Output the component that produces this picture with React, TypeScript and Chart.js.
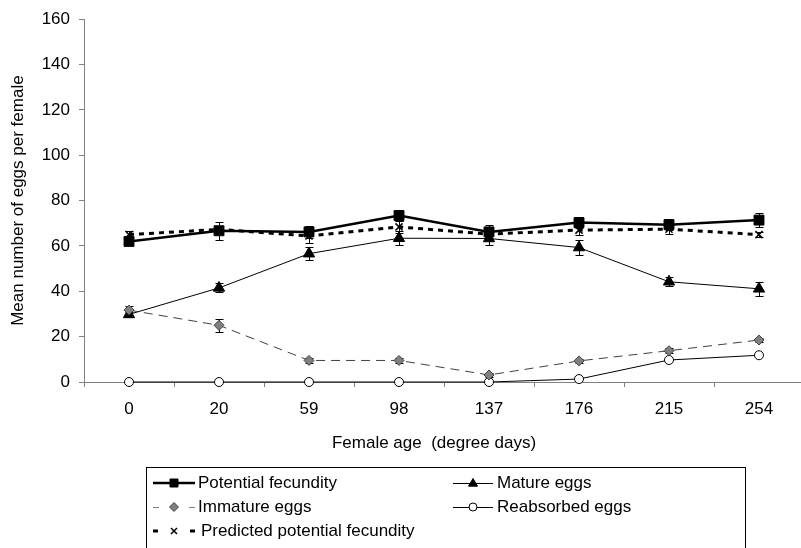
import React, { useEffect, useRef } from "react";
import { Chart, registerables } from "chart.js";

Chart.register(...registerables);

const categories = ["0", "20", "59", "98", "137", "176", "215", "254"];
const potentialFecundity = [62, 66.7, 66.2, 73.4, 66.2, 70.3, 69.4, 71.4];
const potentialErr = [1.5, 4, 2.5, 2.5, 3, 2.5, 2.5, 3];
const matureEggs = [29.8, 41.5, 56.6, 63.4, 63.3, 59.3, 44.2, 41.1];
const matureErr = [1, 2, 3, 3, 3, 3.5, 2, 3];
const immatureEggs = [31.7, 25, 9.5, 9.5, 3.1, 9.3, 13.8, 18.5];
const immatureErr = [2, 3, 1, 1, 1, 1, 1, 1];
const reabsorbedEggs = [0, 0, 0, 0, 0, 1.3, 9.7, 11.8];
const predictedFecundity = [65, 67.3, 64.4, 68.4, 65.2, 67, 67.4, 65];
const predictedErr = [1.5, 1.5, 3, 2.5, 2, 2, 2, 1];
const yTickValues = [0, 20, 40, 60, 80, 100, 120, 140, 160];

const seriesNames = [
  "Potential fecundity",
  "Mature eggs",
  "Immature eggs",
  "Reabsorbed eggs",
  "Predicted potential fecundity",
];

const FONT = '"Liberation Sans", Arial, sans-serif';
const AXIS = "#808080";

function drawMarker(
  ctx: CanvasRenderingContext2D,
  style: string,
  x: number,
  y: number,
  r: number,
  fill: string,
  stroke: string
) {
  ctx.save();
  ctx.setLineDash([]);
  ctx.lineWidth = 1;
  ctx.fillStyle = fill;
  ctx.strokeStyle = stroke;
  ctx.beginPath();
  if (style === "rect") {
    ctx.rect(x - r, y - r, 2 * r, 2 * r);
    ctx.fill();
    ctx.stroke();
  } else if (style === "triangle") {
    ctx.moveTo(x, y - r);
    ctx.lineTo(x + r, y + r * 0.7);
    ctx.lineTo(x - r, y + r * 0.7);
    ctx.closePath();
    ctx.fill();
    ctx.stroke();
  } else if (style === "diamond") {
    ctx.moveTo(x, y - r);
    ctx.lineTo(x + r, y);
    ctx.lineTo(x, y + r);
    ctx.lineTo(x - r, y);
    ctx.closePath();
    ctx.fill();
    ctx.stroke();
  } else if (style === "circle") {
    ctx.arc(x, y, r, 0, Math.PI * 2);
    ctx.fill();
    ctx.stroke();
  } else if (style === "cross") {
    ctx.lineWidth = 1.5;
    ctx.moveTo(x - r, y - r);
    ctx.lineTo(x + r, y + r);
    ctx.moveTo(x + r, y - r);
    ctx.lineTo(x - r, y + r);
    ctx.stroke();
  }
  ctx.restore();
}

const errorSets: { values: number[]; errs: number[] }[] = [
  { values: potentialFecundity, errs: potentialErr },
  { values: matureEggs, errs: matureErr },
  { values: immatureEggs, errs: immatureErr },
  { values: predictedFecundity, errs: predictedErr },
];

const errorBarPlugin = {
  id: "errorBars",
  beforeDatasetsDraw(chart: any) {
    const ctx = chart.ctx as CanvasRenderingContext2D;
    const xs = chart.scales.x;
    const ys = chart.scales.y;
    ctx.save();
    ctx.strokeStyle = "#000";
    ctx.lineWidth = 1;
    ctx.setLineDash([]);
    errorSets.forEach((set) => {
      set.values.forEach((v, i) => {
        const e = set.errs[i];
        if (!e) return;
        const x = Math.round(xs.getPixelForValue(i)) + 0.5;
        const yt = Math.round(ys.getPixelForValue(v + e)) + 0.5;
        const yb = Math.round(ys.getPixelForValue(v - e)) + 0.5;
        ctx.beginPath();
        ctx.moveTo(x, yt);
        ctx.lineTo(x, yb);
        ctx.moveTo(x - 4, yt);
        ctx.lineTo(x + 4, yt);
        ctx.moveTo(x - 4, yb);
        ctx.lineTo(x + 4, yb);
        ctx.stroke();
      });
    });
    ctx.restore();
  },
};

const legendPlugin = {
  id: "customLegend",
  afterDraw(chart: any) {
    const ctx = chart.ctx as CanvasRenderingContext2D;
    ctx.save();
    // x-axis title
    ctx.fillStyle = "#000";
    ctx.font = `17px ${FONT}`;
    ctx.textAlign = "center";
    ctx.textBaseline = "middle";
    ctx.fillText("Female age  (degree days)", 434, 443);

    // legend box
    ctx.strokeStyle = "#000";
    ctx.lineWidth = 1;
    ctx.strokeRect(146.5, 467.5, 599, 120);

    ctx.textAlign = "left";
    const rows = [483, 507, 531];
    const c1 = { x0: 153, x1: 195, tx: 198 };
    const c2 = { x0: 453, x1: 493, tx: 497 };

    // Potential fecundity
    ctx.beginPath();
    ctx.lineWidth = 2.5;
    ctx.moveTo(c1.x0, rows[0]);
    ctx.lineTo(c1.x1, rows[0]);
    ctx.stroke();
    drawMarker(ctx, "rect", (c1.x0 + c1.x1) / 2, rows[0], 4, "#000", "#000");
    ctx.fillText(seriesNames[0], c1.tx, rows[0]);

    // Mature eggs
    ctx.beginPath();
    ctx.lineWidth = 1;
    ctx.moveTo(c2.x0, rows[0] + 0.5);
    ctx.lineTo(c2.x1, rows[0] + 0.5);
    ctx.stroke();
    drawMarker(ctx, "triangle", (c2.x0 + c2.x1) / 2, rows[0], 4.5, "#000", "#000");
    ctx.fillText(seriesNames[1], c2.tx, rows[0]);

    // Immature eggs
    ctx.beginPath();
    ctx.strokeStyle = "#808080";
    ctx.lineWidth = 1;
    ctx.moveTo(c1.x0, rows[1] + 0.5);
    ctx.lineTo(c1.x0 + 6, rows[1] + 0.5);
    ctx.moveTo(c1.x1 - 6, rows[1] + 0.5);
    ctx.lineTo(c1.x1, rows[1] + 0.5);
    ctx.stroke();
    ctx.strokeStyle = "#000";
    drawMarker(ctx, "diamond", (c1.x0 + c1.x1) / 2, rows[1], 4.5, "#808080", "#404040");
    ctx.fillText(seriesNames[2], c1.tx, rows[1]);

    // Reabsorbed eggs
    ctx.beginPath();
    ctx.lineWidth = 1;
    ctx.moveTo(c2.x0, rows[1] + 0.5);
    ctx.lineTo(c2.x1, rows[1] + 0.5);
    ctx.stroke();
    drawMarker(ctx, "circle", (c2.x0 + c2.x1) / 2, rows[1], 4, "#fff", "#000");
    ctx.fillText(seriesNames[3], c2.tx, rows[1]);

    // Predicted potential fecundity
    ctx.fillStyle = "#000";
    ctx.fillRect(c1.x0, rows[2] - 1.5, 5, 3);
    ctx.fillRect(c1.x1 - 5, rows[2] - 1.5, 5, 3);
    drawMarker(ctx, "cross", (c1.x0 + c1.x1) / 2, rows[2], 3, "#000", "#000");
    ctx.fillText(seriesNames[4], c1.tx + 3, rows[2]);

    ctx.restore();
  },
};

export default function App() {
  const ref = useRef<HTMLCanvasElement | null>(null);

  useEffect(() => {
    if (!ref.current) return;
    const chart = new Chart(ref.current, {
      type: "line",
      data: {
        labels: categories,
        datasets: [
          {
            label: seriesNames[2],
            data: immatureEggs,
            borderColor: "#404040",
            borderWidth: 1,
            borderDash: [9, 6],
            pointStyle: "rectRot",
            pointRadius: 5,
            pointBackgroundColor: "#808080",
            pointBorderColor: "#404040",
            pointBorderWidth: 1,
            clip: false,
            order: 1,
          },
          {
            label: seriesNames[0],
            data: potentialFecundity,
            borderColor: "#000",
            borderWidth: 2.5,
            pointStyle: "rect",
            pointRadius: 7,
            pointBackgroundColor: "#000",
            pointBorderColor: "#000",
            pointBorderWidth: 1,
            clip: false,
            order: 2,
          },
          {
            label: seriesNames[1],
            data: matureEggs,
            borderColor: "#000",
            borderWidth: 1,
            pointStyle: "triangle",
            pointRadius: 6.5,
            pointBackgroundColor: "#000",
            pointBorderColor: "#000",
            pointBorderWidth: 1,
            clip: false,
            order: 3,
          },
          {
            label: seriesNames[3],
            data: reabsorbedEggs,
            borderColor: "#000",
            borderWidth: 1,
            pointStyle: "circle",
            pointRadius: 4.5,
            pointBackgroundColor: "#fff",
            pointBorderColor: "#000",
            pointBorderWidth: 1,
            clip: false,
            order: 4,
          },
          {
            label: seriesNames[4],
            data: predictedFecundity,
            borderColor: "#000",
            borderWidth: 3,
            borderDash: [5, 5],
            pointStyle: "crossRot",
            pointRadius: 5,
            pointBorderColor: "#000",
            pointBorderWidth: 1.5,
            clip: false,
            order: 5,
          },
        ],
      },
      options: {
        responsive: false,
        animation: false,
        devicePixelRatio: 1,
        layout: { padding: { top: 19, right: 4, bottom: 0, left: 0 } },
        plugins: {
          legend: { display: false },
          tooltip: { enabled: false },
        },
        elements: { line: { tension: 0 } },
        scales: {
          x: {
            type: "category",
            offset: true,
            grid: {
              offset: true,
              drawOnChartArea: false,
              drawTicks: true,
              tickLength: 5,
              color: AXIS,
            },
            border: { color: AXIS, width: 1 },
            ticks: {
              color: "#000",
              font: { family: FONT, size: 17 },
              padding: 12,
              maxRotation: 0,
            },
            afterFit: (s: any) => {
              s.height = 166;
            },
          },
          y: {
            min: 0,
            max: 160,
            afterBuildTicks: (s: any) => {
              s.ticks = yTickValues.map((v) => ({ value: v }));
            },
            grid: {
              drawOnChartArea: false,
              drawTicks: true,
              tickLength: 5,
              color: AXIS,
            },
            border: { color: AXIS, width: 1 },
            ticks: {
              color: "#000",
              font: { family: FONT, size: 17 },
              padding: 9,
            },
            title: {
              display: true,
              text: "Mean number of eggs per female",
              color: "#000",
              font: { family: FONT, size: 17 },
              padding: { top: 8, bottom: 0 },
            },
            afterFit: (s: any) => {
              s.width = 84;
            },
          },
        },
      },
      plugins: [errorBarPlugin, legendPlugin],
    } as any);
    return () => chart.destroy();
  }, []);

  return (
    <div
      style={{
        position: "fixed",
        left: 0,
        top: 0,
        width: 801,
        height: 548,
        overflow: "hidden",
        background: "#fff",
      }}
    >
      <canvas ref={ref} width={812} height={548} style={{ display: "block" }} />
    </div>
  );
}
